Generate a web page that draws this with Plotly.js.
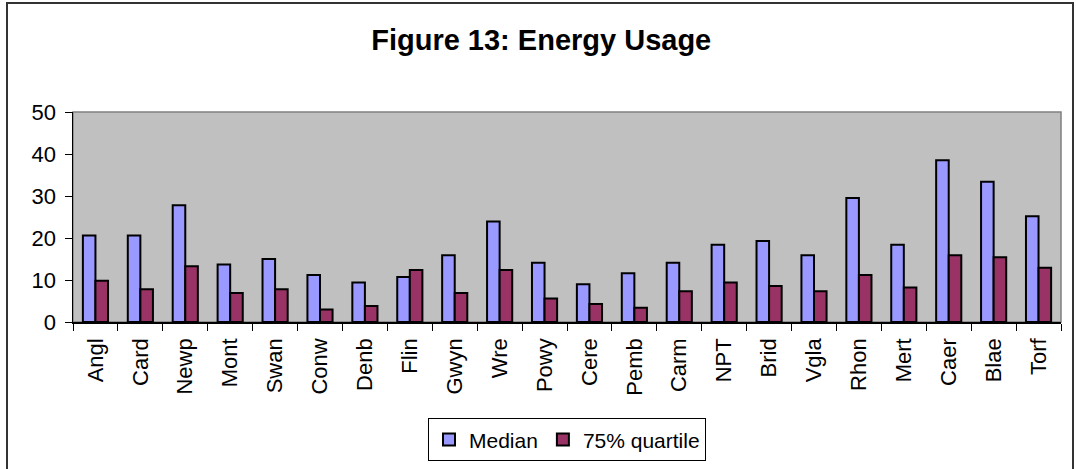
<!DOCTYPE html>
<html>
<head>
<meta charset="utf-8">
<script src="https://cdn.plot.ly/plotly-3.0.1.min.js"></script>
<style>
html,body{margin:0;padding:0;background:#fff;}
#wrap{position:relative;width:1076px;height:469px;overflow:hidden;}
#chart{position:absolute;left:0;top:0;width:1076px;height:469px;}
#frame{position:absolute;left:6px;top:2px;width:1064px;height:500px;border:2px solid #333;pointer-events:none;}
</style>
</head>
<body>
<div id="wrap"><div id="chart"></div><div id="frame"></div></div>
<script>
const categories = ["Angl","Card","Newp","Mont","Swan","Conw","Denb","Flin","Gwyn","Wre","Powy","Cere","Pemb","Carm","NPT","Brid","Vgla","Rhon","Mert","Caer","Blae","Torf"];
const median = [20.6,20.6,27.8,13.7,15.0,11.2,9.4,10.7,15.9,23.9,14.1,9.0,11.6,14.1,18.4,19.3,15.9,29.5,18.4,38.5,33.4,25.2];
const quartile75 = [9.8,7.8,13.3,6.9,7.8,3.0,3.8,12.4,6.9,12.4,5.6,4.3,3.4,7.3,9.4,8.6,7.3,11.2,8.2,15.9,15.4,12.9];
const yTicks = [0,10,20,30,40,50];

const font = "Liberation Sans, Arial, sans-serif";
const traces = [
  {type:"bar", name:"Median", x:categories, y:median,
   marker:{color:"#9999FF", line:{color:"#000", width:2}}},
  {type:"bar", name:"75% quartile", x:categories, y:quartile75,
   marker:{color:"#993366", line:{color:"#000", width:2}}}
];
const layout = {
  width:1076, height:469,
  margin:{l:73, r:15, t:112, b:147, autoexpand:false},
  paper_bgcolor:"rgba(0,0,0,0)",
  plot_bgcolor:"#C0C0C0",
  font:{family:font, size:22, color:"#000"},
  title:{text:"<b>Figure 13: Energy Usage</b>", font:{family:font, size:29, color:"#000"},
         x:0.503, xref:"container", xanchor:"center", y:0.915, yref:"container", yanchor:"middle"},
  barmode:"group", bargap:0.44, bargroupgap:0,
  showlegend:true,
  legend:{orientation:"h", x:0.5, xanchor:"center", y:0.062, yref:"container", yanchor:"middle",
          bgcolor:"#fff", bordercolor:"#000", borderwidth:1,
          font:{family:font, size:21, color:"#000"}, itemclick:false},
  xaxis:{type:"category", tickson:"boundaries", ticks:"outside", ticklen:7, tickcolor:"#000",
         tickangle:-90, showline:true, linecolor:"#000", linewidth:1.5, showgrid:false, automargin:false,
         tickfont:{family:font, size:22, color:"#000"}, ticklabelstandoff:6, fixedrange:true},
  yaxis:{range:[0,50], tickvals:yTicks, ticktext:yTicks.map(String), ticks:"outside", ticklen:7, tickcolor:"#000",
         showline:true, linecolor:"#000", linewidth:1.5, showgrid:false, zeroline:false, automargin:false,
         tickfont:{family:font, size:22, color:"#000"}, ticklabelstandoff:4, fixedrange:true},
  shapes:[{type:"rect", xref:"paper", yref:"paper", x0:0, x1:1, y0:0, y1:1,
           line:{color:"#808080", width:1.5}, layer:"below"}]
};
Plotly.newPlot("chart", traces, layout, {displayModeBar:false, staticPlot:true});
</script>
</body>
</html>
